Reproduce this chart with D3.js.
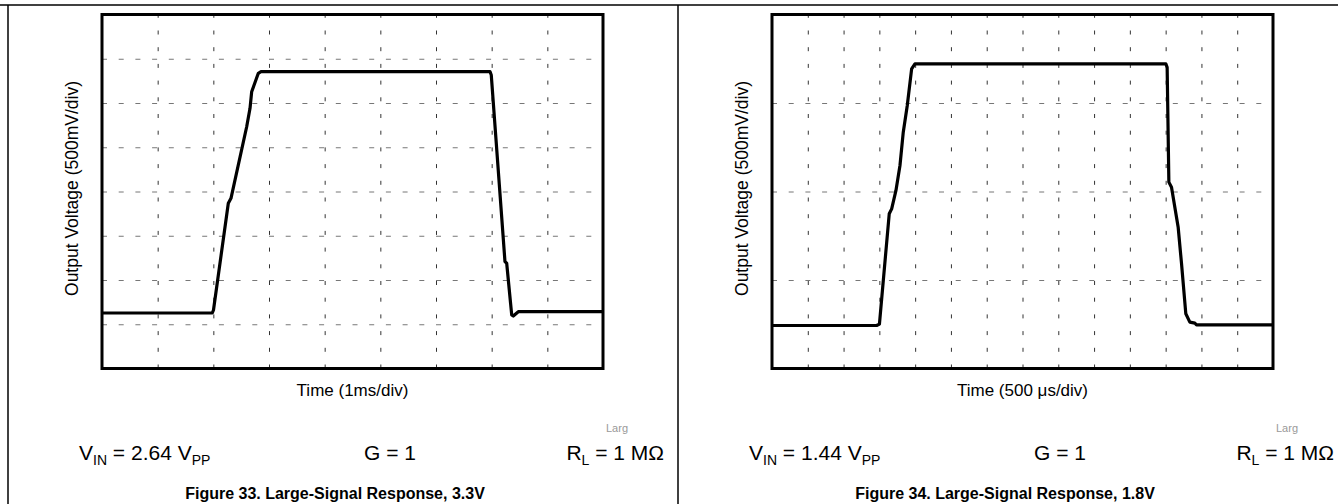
<!DOCTYPE html>
<html>
<head>
<meta charset="utf-8">
<script src="https://cdn.jsdelivr.net/npm/d3@7"></script>
<style>
  body { margin: 0; background: #fff; }
  svg { display: block; font-family: Arial, "Liberation Sans", sans-serif; }
</style>
</head>
<body>
<div id="wrapper"></div>
<script>
// Figure 33: 3.3V supply, time in ms, output in V
const fig33_time = [0, 1.981, 2.003, 2.269, 2.317, 2.599, 2.659, 2.689, 2.808, 2.856, 6.970, 6.993, 7.239, 7.270, 7.360, 7.388, 7.478, 9];
const fig33_volt = [0.627, 0.627, 0.661, 1.867, 1.923, 2.732, 2.940, 3.128, 3.336, 3.354, 3.354, 3.316, 1.207, 1.189, 0.605, 0.593, 0.642, 0.642];

// Figure 34: 1.8V supply
const fig34_time = [0, 1.462, 1.501, 1.638, 1.672, 1.732, 1.788, 1.834, 1.890, 1.951, 1.997, 5.503, 5.521, 5.545, 5.582, 5.675, 5.722, 5.782, 5.838, 5.908, 5.931, 7];
const fig34_volt = [0.243, 0.243, 0.251, 0.874, 0.902, 1.006, 1.147, 1.335, 1.486, 1.693, 1.721, 1.721, 1.702, 1.053, 1.024, 0.798, 0.592, 0.309, 0.262, 0.256, 0.247, 0.247];

// axis ranges (divisions)
const fig33_xDomain = [0, 9];     // 1ms/div, 9 div
const fig33_yDomain = [0, 4];     // 500mV/div, 8 div
const fig34_xDomain = [0, 7];     // 500us/div, 14 div
const fig34_yDomain = [0, 2];     // 4 div
const fig33_xTicks = d3.range(0, 9.01, 1);
const fig33_yTicks = d3.range(0, 4.01, 0.5);
const fig34_xTicks = d3.range(0, 7.01, 0.5);
const fig34_yTicks = d3.range(0, 2.01, 0.5);

const yLabel = "Output Voltage (500mV/div)";
const fig33_xLabel = "Time (1ms/div)";
const fig34_xLabel = "Time (500 \u03BCs/div)";
const fig33_vin = "2.64";
const fig34_vin = "1.44";
const fig33_title = "Figure 33. Large-Signal Response, 3.3V";
const fig34_title = "Figure 34. Large-Signal Response, 1.8V";

let dimensions = {
	width: 1338,
	height: 504,
	panelWidth: 670,
	panelLeft: 8,
	box: { left: 94, top: 14.5, width: 501, height: 354 }
};

let wrapper = d3.select("#wrapper").append("svg")
	.attr("width", dimensions.width)
	.attr("height", dimensions.height);

// table frame
wrapper.append("line")
	.attr("x1", 0).attr("x2", dimensions.width)
	.attr("y1", 5).attr("y2", 5)
	.attr("stroke", "#000").attr("stroke-width", 1.5);
[dimensions.panelLeft, dimensions.panelLeft + dimensions.panelWidth].forEach(x => {
	wrapper.append("line")
		.attr("x1", x).attr("x2", x)
		.attr("y1", 5).attr("y2", dimensions.height)
		.attr("stroke", "#000").attr("stroke-width", 1.5);
});

function drawPanel(offsetX, times, volts, xDomain, yDomain, xTicks, yTicks, xLabel, vin, title) {
	const box = dimensions.box;
	let panel = wrapper.append("g")
		.attr("transform", `translate(${offsetX},0)`);

	let xScale = d3.scaleLinear()
		.domain(xDomain)
		.range([box.left, box.left + box.width]);
	let yScale = d3.scaleLinear()
		.domain(yDomain)
		.range([box.top + box.height, box.top]);

	// dashed grid using axes with full length ticks
	const xGrid = d3.axisBottom(xScale).tickValues(xTicks.slice(1, -1))
		.tickSize(-box.height).tickFormat("");
	const yGrid = d3.axisLeft(yScale).tickValues(yTicks.slice(1, -1))
		.tickSize(-box.width).tickFormat("");

	const gx = panel.append("g")
		.attr("transform", `translate(0,${box.top + box.height})`)
		.call(xGrid);
	const gy = panel.append("g")
		.attr("transform", `translate(${box.left},0)`)
		.call(yGrid);
	gx.select(".domain").remove();
	gy.select(".domain").remove();
	gx.selectAll(".tick line")
		.attr("stroke", "#333")
		.attr("stroke-dasharray", "4,12.7");
	gy.selectAll(".tick line")
		.attr("stroke", "#777")
		.attr("stroke-dasharray", "5,11.7");

	// frame
	panel.append("rect")
		.attr("x", box.left).attr("y", box.top)
		.attr("width", box.width).attr("height", box.height)
		.attr("fill", "none")
		.attr("stroke", "#000")
		.attr("stroke-width", 3);

	const line = d3.line()
		.x((d, i) => xScale(times[i]))
		.y((d, i) => yScale(volts[i]));

	panel.append("path")
		.datum(volts)
		.attr("d", line)
		.attr("fill", "none")
		.attr("stroke", "#000")
		.attr("stroke-width", 3.2)
		.attr("stroke-linejoin", "round");

	// labels
	panel.append("text")
		.attr("transform", `translate(${box.left - 24},${box.top + box.height / 2 - 3}) rotate(-90)`)
		.attr("text-anchor", "middle")
		.attr("font-size", 17.5)
		.text(yLabel);

	panel.append("text")
		.attr("x", box.left + box.width / 2)
		.attr("y", 396)
		.attr("text-anchor", "middle")
		.attr("font-size", 17)
		.text(xLabel);

	panel.append("text")
		.attr("x", 598)
		.attr("y", 432)
		.attr("font-size", 11)
		.attr("fill", "#999")
		.text("Larg");

	let vinText = panel.append("text")
		.attr("x", 71).attr("y", 460)
		.attr("font-size", 21);
	vinText.append("tspan").text("V");
	vinText.append("tspan").attr("font-size", 14).attr("dy", 5).text("IN");
	vinText.append("tspan").attr("dy", -5).text(` = ${vin} V`);
	vinText.append("tspan").attr("font-size", 14).attr("dy", 5).text("PP");

	panel.append("text")
		.attr("x", 382).attr("y", 460)
		.attr("text-anchor", "middle")
		.attr("font-size", 21)
		.text("G = 1");

	let rlText = panel.append("text")
		.attr("x", 656).attr("y", 460)
		.attr("text-anchor", "end")
		.attr("font-size", 21);
	rlText.append("tspan").text("R");
	rlText.append("tspan").attr("font-size", 14).attr("dy", 5).text("L");
	rlText.append("tspan").attr("dy", -5).text(" = 1 M\u03A9");

	panel.append("text")
		.attr("x", 327)
		.attr("y", 499)
		.attr("text-anchor", "middle")
		.attr("font-size", 16)
		.attr("font-weight", "bold")
		.text(title);
}

drawPanel(dimensions.panelLeft, fig33_time, fig33_volt, fig33_xDomain, fig33_yDomain, fig33_xTicks, fig33_yTicks, fig33_xLabel, fig33_vin, fig33_title);
drawPanel(dimensions.panelLeft + dimensions.panelWidth, fig34_time, fig34_volt, fig34_xDomain, fig34_yDomain, fig34_xTicks, fig34_yTicks, fig34_xLabel, fig34_vin, fig34_title);
</script>
</body>
</html>
